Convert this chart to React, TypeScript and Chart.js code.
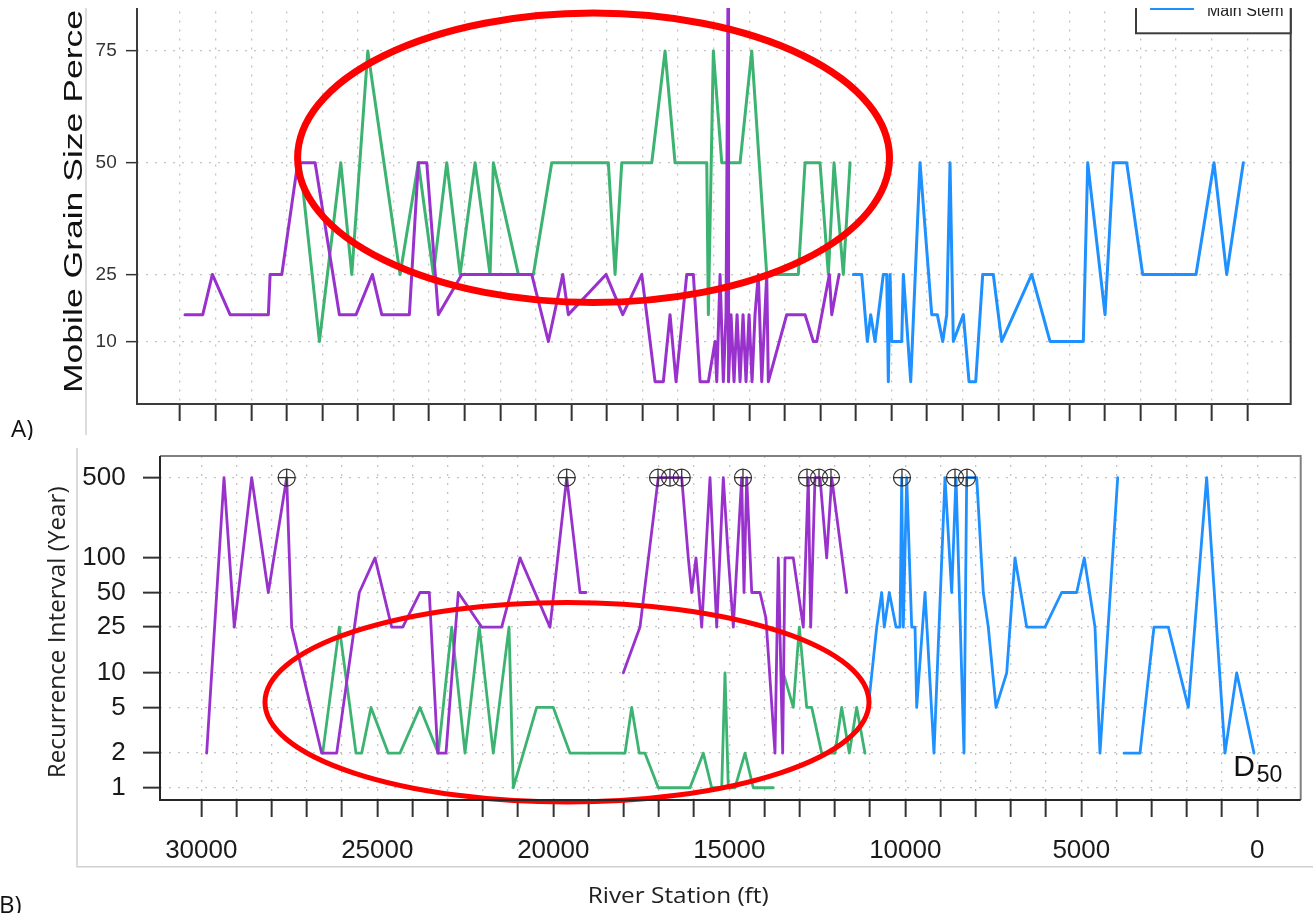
import React, { useEffect, useRef } from 'react';
import { Chart, registerables } from 'chart.js';

Chart.register(...registerables);

// ---------------- Panel A : Mobile grain size percentile ----------------
const topPurpleStations = [29860, 29360, 29090, 28592, 27516, 27468, 27139, 26690, 26203, 25520, 25051, 24593, 24329, 23553, 23300, 23064, 22738, 22080, 20113, 19646, 19241, 19084, 18025, 17555, 17021, 16647, 16414, 16226, 16057, 15756, 15571, 15382, 15149, 14961, 14913, 14820, 14728, 14652, 14587, 14581, 14511, 14427, 14342, 14258, 14174, 14090, 14005, 13921, 13837, 13744, 13648, 13508, 13463, 12946, 12431, 12198, 12102, 11748, 11681, 11476];
const topPurpleValues = [16, 16, 25, 16, 16, 25, 25, 50, 50, 16, 16, 25, 16, 16, 50, 50, 16, 25, 25, 10, 25, 16, 25, 16, 25, 1, 1, 16, 1, 25, 25, 1, 1, 10, 1, 25, 1, 16, 100, 1, 16, 1, 16, 1, 16, 1, 16, 1, 16, 25, 1, 25, 1, 16, 16, 10, 10, 25, 16, 25];

const topGreenStations = [26625, 26082, 25481, 25172, 24722, 23814, 23300, 22878, 22502, 22128, 21706, 21285, 21192, 20489, 20068, 19551, 17960, 17771, 17583, 16740, 16366, 16085, 15194, 15149, 15009, 14773, 14258, 13929, 13508, 12620, 12431, 12010, 11776, 11616, 11355, 11166];
const topGreenValues = [50, 10, 50, 25, 75, 25, 50, 25, 50, 25, 50, 25, 50, 25, 25, 50, 50, 25, 50, 50, 75, 50, 50, 16, 75, 50, 50, 75, 25, 25, 50, 50, 25, 50, 25, 50];

const topBlueStations = [11074, 10838, 10680, 10585, 10464, 10231, 10135, 10090, 10042, 9994, 9713, 9668, 9461, 9199, 8870, 8713, 8561, 8449, 8356, 8263, 7982, 7822, 7634, 7437, 7139, 6903, 6060, 5545, 4609, 4486, 3999, 3766, 3390, 2940, 1442, 936, 579, 112];
const topBlueValues = [25, 25, 10, 16, 10, 25, 25, 1, 25, 10, 10, 25, 1, 50, 16, 16, 10, 16, 50, 10, 16, 1, 1, 25, 25, 10, 25, 10, 10, 50, 16, 50, 50, 25, 25, 50, 25, 50];

const topYTicks = [10, 25, 50, 75];

// ---------------- Panel B : Recurrence interval ----------------
const botPurpleStations = [29847, 29355, 29062, 28568, 28096, 27574, 27432, 26580, 26153, 25511, 25065, 24591, 24278, 23787, 23523, 23284, 23048, 22699, 22034, 21466, 20946, 20094, 19619, 19241, 19071, 18500, 18011, 17537, 17017, 16685, 16352, 16165, 16068, 15946, 15784, 15548, 15358, 15170, 15028, 14886, 14648, 14582, 14506, 14363, 14128, 13960, 13702, 13608, 13483, 13418, 13182, 12898, 12756, 12688, 12565, 12423, 12233, 12091, 11665];
const botPurpleValues = [2, 500, 25, 500, 50, 500, 25, 2, 2, 50, 100, 25, 25, 50, 50, 2, 2, 50, 25, 25, 100, 25, 500, 50, 50, null, 10, 25, 500, 500, 500, 100, 50, 100, 25, 500, 25, 500, 100, 25, 500, 50, 500, 50, 50, 30, 2, 100, 2, 100, 100, 25, 500, 25, 500, 500, 100, 500, 50];

const botGreenStations = [26551, 26079, 25605, 25443, 25179, 24687, 24355, 23787, 23267, 22886, 22508, 22102, 21705, 21258, 21136, 20472, 20000, 19525, 17963, 17773, 17557, 17395, 17017, 16117, 15739, 15500, 15216, 15122, 15028, 14838, 14554, 14318, 13750, 13600, 13466, 13182, 13011, 12801, 12659, 12375, 11997, 11807, 11591, 11381, 11145];
const botGreenValues = [2, 25, 2, 2, 5, 2, 2, 5, 2, 25, 2, 25, 2, 25, 1, 5, 5, 2, 2, 5, 2, 2, 1, 1, 2, 1, 1, 10, 1, 1, 2, 1, 1, null, 10, 5, 25, 5, 5, 2, 2, 5, 2, 5, 2];

const botBlueStations = [11051, 10812, 10670, 10597, 10455, 10264, 10151, 10102, 10057, 9960, 9818, 9724, 9676, 9440, 9185, 8872, 8682, 8560, 8332, 8256, 7972, 7784, 7642, 7423, 7119, 6884, 6551, 6031, 5557, 5131, 4915, 4611, 4469, 3966, 3880, 3787, 3332, 2935, 2528, 1960, 1438, 918, 585, 94];
const botBlueValues = [5, 25, 50, 25, 50, 25, 25, 500, 25, 500, 25, 25, 5, 50, 2, 500, 50, 500, 2, 500, 500, 50, 25, 5, 10, 100, 25, 25, 50, 50, 100, 25, 2, 500, null, 2, 2, 25, 25, 5, 500, 2, 10, 2];

const markerStations = [27574, 19619, 17025, 16685, 16352, 14611, 12792, 12451, 12111, 10094, 8588, 8247];
const markerValues = [500, 500, 500, 500, 500, 500, 500, 500, 500, 500, 500, 500];

const botYTicks = [1, 2, 5, 10, 25, 50, 100, 500];
const stationTicks = [30000, 29000, 28000, 27000, 26000, 25000, 24000, 23000, 22000, 21000, 20000, 19000, 18000, 17000, 16000, 15000, 14000, 13000, 12000, 11000, 10000, 9000, 8000, 7000, 6000, 5000, 4000, 3000, 2000, 1000, 0];
const stationLabels = [30000, 25000, 20000, 15000, 10000, 5000, 0];

// red highlight ellipses (annotation, in data units)
const topEllipseCenter = [18376, 51.1];
const topEllipseHalf = [8319, 32.4];
const botEllipseStation = 19611;
const botEllipseHalfStations = 8580;
const botEllipseValueRange = [41, 0.75];

const PURPLE = '#9932CC';
const GREEN = '#3CB371';
const BLUE = '#1E90FF';
const SANS = '"Liberation Sans", Arial, sans-serif';
const OPEN = '"Open Sans", "Liberation Sans", sans-serif';

const series = (st: number[], v: (number | null)[]) => st.map((s, i) => ({ x: s, y: v[i] }));

const lineDs = (label: string, st: number[], v: (number | null)[], color: string, w: number) => ({
  label,
  data: series(st, v),
  borderColor: color,
  backgroundColor: color,
  borderWidth: w,
  pointRadius: 0,
  pointHoverRadius: 0,
  tension: 0,
  spanGaps: false,
  fill: false,
  borderJoinStyle: 'round',
  borderCapStyle: 'round',
});

function fitText(ctx: CanvasRenderingContext2D, text: string, measureText: string, len: number) {
  const w = ctx.measureText(measureText).width;
  ctx.scale(len / w, 1);
  ctx.fillText(text, 0, 0);
}

const zeroPad = (s: any) => {
  s.paddingTop = 0;
  s.paddingBottom = 0;
  s.paddingLeft = 0;
  s.paddingRight = 0;
};

const topDecor = {
  id: 'topDecor',
  afterDraw(chart: any) {
    const ctx: CanvasRenderingContext2D = chart.ctx;
    const { left, right, top, bottom } = chart.chartArea;
    const xs = chart.scales.x;
    const ys = chart.scales.y;
    ctx.save();
    // red ellipse
    const cx = xs.getPixelForValue(topEllipseCenter[0]);
    const cy = ys.getPixelForValue(topEllipseCenter[1]);
    const rx = Math.abs(xs.getPixelForValue(topEllipseCenter[0] - topEllipseHalf[0]) - cx);
    const ry = Math.abs(ys.getPixelForValue(topEllipseCenter[1] + topEllipseHalf[1]) - cy);
    ctx.strokeStyle = '#FF0000';
    ctx.lineWidth = 7;
    ctx.beginPath();
    ctx.ellipse(cx, cy, rx, ry, 0, 0, Math.PI * 2);
    ctx.stroke();
    // plot box
    ctx.strokeStyle = '#3c3c3c';
    ctx.lineWidth = 2;
    ctx.strokeRect(left, top, right - left, bottom - top);
    // legend
    const lgLeft = right - 154.7;
    const lgBottom = top + 111.8;
    ctx.fillStyle = '#ffffff';
    ctx.fillRect(lgLeft, top, right - lgLeft, lgBottom - top);
    ctx.strokeRect(lgLeft, top, right - lgLeft, lgBottom - top);
    ctx.strokeStyle = BLUE;
    ctx.lineWidth = 3;
    ctx.beginPath();
    ctx.moveTo(lgLeft + 14, top + 87);
    ctx.lineTo(lgLeft + 58, top + 87);
    ctx.stroke();
    ctx.fillStyle = '#222';
    ctx.font = `16px ${SANS}`;
    ctx.textAlign = 'left';
    ctx.textBaseline = 'alphabetic';
    ctx.fillText('Main Stem', lgLeft + 71, top + 94.2);
    // y title
    ctx.save();
    ctx.fillStyle = '#111';
    ctx.font = `26px ${SANS}`;
    ctx.translate(82, 493);
    ctx.rotate(-Math.PI / 2);
    fitText(ctx, 'Mobile Grain Size Percentile', 'Mobile Grain Size Perce', 383);
    ctx.restore();
    // panel label
    ctx.fillStyle = '#111';
    ctx.font = `24px ${OPEN}`;
    ctx.fillText('A)', 11, 536.7);
    // figure frame
    ctx.strokeStyle = '#d0d0d0';
    ctx.lineWidth = 1.5;
    ctx.beginPath();
    ctx.moveTo(86, 108);
    ctx.lineTo(86, 535);
    ctx.stroke();
    ctx.restore();
  },
};

const botDecor = {
  id: 'botDecor',
  afterDraw(chart: any) {
    const ctx: CanvasRenderingContext2D = chart.ctx;
    const { left, right, top, bottom } = chart.chartArea;
    const xs = chart.scales.x;
    const ys = chart.scales.y;
    ctx.save();
    // red ellipse
    const cx = xs.getPixelForValue(botEllipseStation);
    const rx = Math.abs(xs.getPixelForValue(botEllipseStation - botEllipseHalfStations) - cx);
    const yT = ys.getPixelForValue(botEllipseValueRange[0]);
    const yB = ys.getPixelForValue(botEllipseValueRange[1]);
    ctx.strokeStyle = '#FF0000';
    ctx.lineWidth = 5;
    ctx.beginPath();
    ctx.ellipse(cx, (yT + yB) / 2, rx, (yB - yT) / 2, 0, 0, Math.PI * 2);
    ctx.stroke();
    // plot box
    ctx.lineWidth = 2;
    ctx.strokeStyle = '#808080';
    ctx.beginPath();
    ctx.moveTo(left, top);
    ctx.lineTo(right, top);
    ctx.lineTo(right, bottom);
    ctx.stroke();
    ctx.strokeStyle = '#262626';
    ctx.beginPath();
    ctx.moveTo(left, top);
    ctx.lineTo(left, bottom);
    ctx.lineTo(right, bottom);
    ctx.stroke();
    // D50
    ctx.fillStyle = '#111';
    ctx.textAlign = 'left';
    ctx.textBaseline = 'alphabetic';
    ctx.font = `30px ${SANS}`;
    ctx.fillText('D', right - 67.4, bottom - 24.5);
    ctx.font = `23px ${SANS}`;
    ctx.fillText('50', right - 44, bottom - 18.3);
    // y title
    ctx.save();
    ctx.font = `23px ${OPEN}`;
    ctx.fillStyle = '#222';
    ctx.translate(65, 338.3);
    ctx.rotate(-Math.PI / 2);
    fitText(ctx, 'Recurrence Interval (Year)', 'Recurrence Interval (Year)', 292);
    ctx.restore();
    // x title
    ctx.save();
    ctx.font = `21px ${OPEN}`;
    ctx.fillStyle = '#222';
    ctx.translate(587.7, 463.3);
    fitText(ctx, 'River Station (ft)', 'River Station (ft)', 181);
    ctx.restore();
    // panel label
    ctx.fillStyle = '#111';
    ctx.font = `24px ${OPEN}`;
    ctx.fillText('B)', -1, 472.5);
    // figure frame
    ctx.strokeStyle = '#d0d0d0';
    ctx.lineWidth = 1.5;
    ctx.beginPath();
    ctx.moveTo(77, 8);
    ctx.lineTo(77, 426.7);
    ctx.lineTo(1313, 426.7);
    ctx.stroke();
    ctx.restore();
  },
};

const gridOpts = (tickLength: number, tickWidth: number) => ({
  color: '#c4c4c4',
  lineWidth: 1.3,
  tickLength,
  tickColor: '#333',
  tickWidth,
  drawTicks: true,
  drawOnChartArea: true,
});

export default function App() {
  const topRef = useRef<HTMLCanvasElement>(null);
  const botRef = useRef<HTMLCanvasElement>(null);

  useEffect(() => {
    const top = new Chart(topRef.current as HTMLCanvasElement, {
      type: 'line',
      data: {
        datasets: [
          lineDs('Channel 1', topPurpleStations, topPurpleValues, PURPLE, 3),
          lineDs('Channel 2', topGreenStations, topGreenValues, GREEN, 3),
          lineDs('Main Stem', topBlueStations, topBlueValues, BLUE, 3),
        ] as any,
      },
      options: {
        animation: false,
        responsive: false,
        maintainAspectRatio: false,
        events: [],
        layout: { padding: { top: 21.5, right: 22.3, left: 0, bottom: 0 } },
        plugins: { legend: { display: false }, tooltip: { enabled: false } },
        scales: {
          x: {
            type: 'linear',
            reverse: true,
            min: -1220,
            max: 31209,
            afterBuildTicks: (s: any) => { s.ticks = stationTicks.map((v) => ({ value: v })); },
            afterFit: (s: any) => { s.height = 36; zeroPad(s); },
            ticks: { autoSkip: false, maxRotation: 0, minRotation: 0, padding: 0, callback: () => '' },
            grid: gridOpts(17, 2),
            border: { display: false, dash: [2, 7] },
          },
          y: {
            type: 'linear',
            min: -4,
            max: 104,
            afterBuildTicks: (s: any) => { s.ticks = topYTicks.map((v) => ({ value: v })); },
            afterFit: (s: any) => { s.width = 137; zeroPad(s); },
            ticks: {
              autoSkip: false,
              padding: 9.3,
              color: '#333',
              font: { family: SANS, size: 19 },
              callback: (v: any) => String(v),
            },
            grid: gridOpts(11, 1.5),
            border: { display: false, dash: [2, 7] },
          },
        },
      } as any,
      plugins: [topDecor],
    });

    const bot = new Chart(botRef.current as HTMLCanvasElement, {
      type: 'line',
      data: {
        datasets: [
          {
            label: 'circle',
            data: series(markerStations, markerValues),
            showLine: false,
            pointStyle: 'circle',
            pointRadius: 8.5,
            pointHoverRadius: 8.5,
            pointBorderColor: '#333',
            pointBackgroundColor: 'rgba(0,0,0,0)',
            pointBorderWidth: 1.3,
          },
          {
            label: 'plus',
            data: series(markerStations, markerValues),
            showLine: false,
            pointStyle: 'cross',
            pointRadius: 8.5,
            pointHoverRadius: 8.5,
            pointBorderColor: '#333',
            pointBackgroundColor: 'rgba(0,0,0,0)',
            pointBorderWidth: 1.3,
          },
          lineDs('Channel 1', botPurpleStations, botPurpleValues, PURPLE, 2.8),
          lineDs('Channel 2', botGreenStations, botGreenValues, GREEN, 2.8),
          lineDs('Main Stem', botBlueStations, botBlueValues, BLUE, 2.8),
        ] as any,
      },
      options: {
        animation: false,
        responsive: false,
        maintainAspectRatio: false,
        events: [],
        layout: { padding: { top: 16, right: 12.3, left: 0, bottom: 0 } },
        plugins: { legend: { display: false }, tooltip: { enabled: false } },
        scales: {
          x: {
            type: 'linear',
            reverse: true,
            min: -1233,
            max: 31173,
            afterBuildTicks: (s: any) => { s.ticks = stationTicks.map((v) => ({ value: v })); },
            afterFit: (s: any) => { s.height = 113; zeroPad(s); },
            ticks: {
              autoSkip: false,
              maxRotation: 0,
              minRotation: 0,
              padding: 18,
              color: '#1a1a1a',
              font: { family: SANS, size: 26 },
              callback: (v: any) => (stationLabels.includes(Number(v)) ? String(v) : ''),
            },
            grid: gridOpts(17, 2),
            border: { display: false, dash: [2, 7] },
          },
          y: {
            type: 'logarithmic',
            min: 0.782,
            max: 771,
            afterBuildTicks: (s: any) => { s.ticks = botYTicks.map((v) => ({ value: v })); },
            afterFit: (s: any) => { s.width = 160; zeroPad(s); },
            ticks: {
              autoSkip: false,
              padding: 17.3,
              color: '#1a1a1a',
              font: { family: SANS, size: 26 },
              callback: (v: any) => String(v),
            },
            grid: gridOpts(17, 2),
            border: { display: false, dash: [2, 7] },
          },
        },
      } as any,
      plugins: [botDecor],
    });

    return () => {
      top.destroy();
      bot.destroy();
    };
  }, []);

  return (
    <div style={{ position: 'absolute', left: 0, top: 0, width: 1313, height: 913, overflow: 'hidden', background: '#fff' }}>
      <div style={{ position: 'absolute', left: 0, top: 8, width: 1313, height: 432, overflow: 'hidden' }}>
        <canvas
          ref={topRef}
          width={1313}
          height={540}
          style={{ position: 'absolute', left: 0, top: -108, width: 1313, height: 540, display: 'block' }}
        />
      </div>
      <div style={{ position: 'absolute', left: 0, top: 440, width: 1313, height: 473, overflow: 'hidden' }}>
        <canvas
          ref={botRef}
          width={1313}
          height={473}
          style={{ position: 'absolute', left: 0, top: 0, width: 1313, height: 473, display: 'block' }}
        />
      </div>
    </div>
  );
}
